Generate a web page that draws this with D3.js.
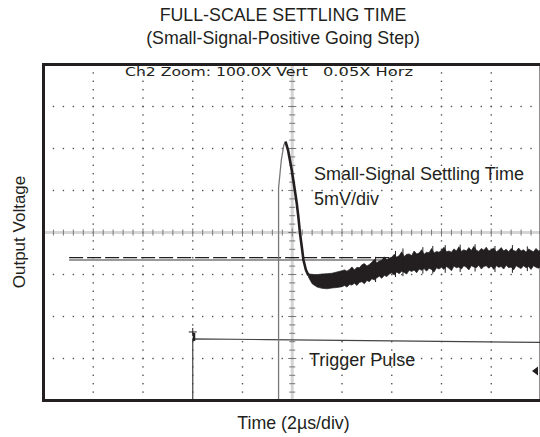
<!DOCTYPE html>
<html>
<head>
<script src="https://d3js.org/d3.v7.min.js"></script>
<style>
  body { margin: 0; background: #fff; }
  text { font-family: "Liberation Sans", Arial, sans-serif; fill: #231f20; }
</style>
</head>
<body>
<div id="chart"></div>
<script>
// scope screen: 2us/div x 10 div, 5mV/div x 8 div, centre line = 0 mV
var timeDomain = [0, 20];
var voltDomain = [-20, 20];
var xDivs = 10, yDivs = 8, minorPerDiv = 5;

// rising edge of the step (grey, comes up from below the screen)
var riseT = [9.45, 9.45, 9.56, 9.66, 9.73];
var riseV = [-21, 5.3, 8.6, 10.4, 10.83];

// overshoot and fast decay (black)
var decayT = [9.73, 9.83, 9.98, 10.09, 10.18, 10.25, 10.31, 10.39, 10.45, 10.55, 10.65];
var decayV = [10.83, 9.82, 7.44, 5.30, 3.51, 1.73, -0.06, -1.84, -3.27, -4.46, -5.1];

// noisy settling tail, upper and lower edge of the trace
var tailT = [10.65, 10.8, 11.0, 11.2, 11.4, 11.6, 11.8, 12.0, 12.1, 12.2, 12.3, 12.4, 12.5, 12.6, 12.7, 12.8, 12.9,
  13.0, 13.1, 13.2, 13.3, 13.4, 13.5, 13.6, 13.7, 13.8, 13.9, 14.0, 14.1, 14.2, 14.3, 14.4, 14.5, 14.6, 14.7, 14.8, 14.9,
  15.0, 15.1, 15.2, 15.3, 15.4, 15.5, 15.6, 15.7, 15.8, 15.9, 16.0, 16.1, 16.2, 16.3, 16.4, 16.5, 16.6, 16.7, 16.8, 16.9,
  17.0, 17.1, 17.2, 17.3, 17.4, 17.5, 17.6, 17.7, 17.8, 17.9, 18.0, 18.1, 18.2, 18.3, 18.4, 18.5, 18.6, 18.7, 18.8, 18.9,
  19.0, 19.1, 19.2, 19.3, 19.4, 19.5, 19.6, 19.7, 19.8, 19.9, 20.0];
var tailHi = [-4.9, -5.0, -5.0, -4.95, -4.9, -4.85, -4.7, -4.55, -4.45, -4.6, -4.4, -4.1, -4.45, -4.15, -4.2, -3.85, -3.7,
  -4.0, -3.8, -3.55, -3.2, -3.6, -3.4, -3.3, -2.9, -3.25, -3.05, -2.95, -2.6, -2.95, -2.75, -2.3, -2.85, -2.6, -2.55, -2.75, -2.2,
  -2.55, -2.45, -2.05, -2.6, -2.35, -2.4, -1.9, -2.45, -2.25, -2.35, -2.1, -1.75, -2.3, -2.2, -2.35, -1.95, -2.2, -1.7, -2.25, -2.05,
  -2.2, -1.8, -2.15, -1.65, -2.1, -2.25, -1.9, -2.1, -1.75, -2.2, -2.05, -1.85, -2.3, -2.1, -1.8, -2.2, -2.0, -2.3, -1.9, -2.15,
  -2.25, -1.85, -2.2, -2.05, -2.35, -1.95, -2.15, -2.3, -1.9, -2.2, -2.1];
var tailLo = [-5.3, -6.1, -6.5, -6.65, -6.7, -6.6, -6.55, -6.45, -6.3, -6.5, -6.2, -6.25, -6.05, -6.3, -5.95, -5.85, -6.1,
  -5.7, -5.85, -5.5, -5.65, -5.4, -5.2, -5.45, -5.1, -5.25, -4.95, -4.8, -5.05, -4.7, -4.9, -4.6, -4.75, -4.95, -4.5, -4.65, -4.45,
  -4.8, -4.35, -4.5, -4.3, -4.6, -4.25, -4.4, -4.7, -4.2, -4.35, -4.15, -4.4, -4.05, -4.25, -4.55, -4.0, -4.2, -4.1, -4.35, -3.95,
  -4.15, -4.45, -3.95, -4.1, -4.2, -3.9, -4.35, -4.05, -3.95, -4.25, -4.0, -4.4, -3.95, -4.15, -4.05, -4.35, -3.9, -4.2, -4.1, -4.45,
  -3.95, -4.15, -4.3, -3.95, -4.2, -4.05, -4.4, -3.95, -4.15, -4.25, -4.0];

// isolated noise spikes on the tail
var spikeT = [13.35, 14.15, 14.45, 15.25, 15.65, 16.15, 16.75, 17.35, 18.15, 18.85, 19.45];
var spikeTop = [-2.9, -2.2, -1.9, -1.75, -1.6, -1.5, -1.45, -1.4, -1.6, -1.5, -1.65];
var spikeBot = [-5.9, -5.3, -5.2, -4.9, -4.9, -4.8, -4.7, -4.65, -4.7, -4.8, -4.6];

// reference levels (dashed final value and grey level)
var refT = [1.03, 20];
var dashedV = [-3.0, -3.0];
var greyV = [-3.27, -3.27];

// trigger pulse
var trigT = [6.0, 6.0, 9.0, 14.0, 20.0];
var trigV = [-21, -12.67, -12.75, -12.9, -13.09];
var trigMark = [6.0, -11.84];
var groundMark = [20, -16.5];

var scopeLabel1 = "Ch2 Zoom: 100.0X Vert";
var scopeLabel2 = "0.05X Horz";

var width = 540, height = 437;
var padLeft = 43.5, padRight = 541, padTop = 64.5, padBottom = 400.5;

var svg = d3.select("#chart").append("svg")
    .attr("width", width)
    .attr("height", height);

var x = d3.scaleLinear().domain(timeDomain).range([padLeft, padRight]);
var y = d3.scaleLinear().domain(voltDomain).range([padBottom, padTop]);

var xStep = (timeDomain[1] - timeDomain[0]) / xDivs;
var yStep = (voltDomain[1] - voltDomain[0]) / yDivs;

// dotted graticule
var grid = svg.append("g");
var dots = [];
d3.range(0, xDivs + 1).forEach(function(i) {
    if (i === xDivs / 2) return;
    d3.range(0, yDivs * minorPerDiv + 1).forEach(function(j) {
        dots.push([timeDomain[0] + i * xStep, voltDomain[0] + j * yStep / minorPerDiv]);
    });
});
d3.range(0, yDivs + 1).forEach(function(k) {
    if (k === yDivs / 2) return;
    d3.range(0, xDivs * minorPerDiv + 1).forEach(function(j) {
        dots.push([timeDomain[0] + j * xStep / minorPerDiv, voltDomain[0] + k * yStep]);
    });
});
grid.selectAll("rect.dot")
    .data(dots)
    .enter().append("rect")
    .attr("class", "dot")
    .attr("x", function(d) { return x(d[0]) - 0.7; })
    .attr("y", function(d) { return y(d[1]) - 0.7; })
    .attr("width", 1.4)
    .attr("height", 1.4)
    .attr("fill", "#555");

// centre axes with minor ticks
var cx = x((timeDomain[0] + timeDomain[1]) / 2);
var cy = y((voltDomain[0] + voltDomain[1]) / 2);
grid.append("line")
    .attr("x1", padLeft).attr("x2", padRight).attr("y1", cy).attr("y2", cy)
    .attr("stroke", "#aaa").attr("stroke-width", 3).attr("stroke-dasharray", "1,1");
grid.append("line")
    .attr("x1", cx).attr("x2", cx).attr("y1", padTop).attr("y2", padBottom)
    .attr("stroke", "#aaa").attr("stroke-width", 3).attr("stroke-dasharray", "1,1");
grid.selectAll("line.xt")
    .data(d3.range(0, xDivs * minorPerDiv + 1))
    .enter().append("line")
    .attr("class", "xt")
    .attr("x1", function(j) { return x(j * xStep / minorPerDiv); })
    .attr("x2", function(j) { return x(j * xStep / minorPerDiv); })
    .attr("y1", function(j) { return cy - (j % minorPerDiv === 0 ? 4 : 3); })
    .attr("y2", function(j) { return cy + (j % minorPerDiv === 0 ? 4 : 3); })
    .attr("stroke", "#777").attr("stroke-width", 1);
grid.selectAll("line.yt")
    .data(d3.range(0, yDivs * minorPerDiv + 1))
    .enter().append("line")
    .attr("class", "yt")
    .attr("y1", function(j) { return y(voltDomain[0] + j * yStep / minorPerDiv); })
    .attr("y2", function(j) { return y(voltDomain[0] + j * yStep / minorPerDiv); })
    .attr("x1", function(j) { return cx - (j % minorPerDiv === 0 ? 4 : 3); })
    .attr("x2", function(j) { return cx + (j % minorPerDiv === 0 ? 4 : 3); })
    .attr("stroke", "#777").attr("stroke-width", 1);

svg.append("clipPath").attr("id", "clip")
    .append("rect").attr("x", padLeft).attr("y", padTop)
    .attr("width", padRight - padLeft).attr("height", padBottom - padTop);
var plot = svg.append("g").attr("clip-path", "url(#clip)");

var line = d3.line()
    .x(function(d) { return x(d[0]); })
    .y(function(d) { return y(d[1]); });

// reference levels
plot.append("path")
    .datum(d3.zip(refT, greyV))
    .attr("d", line)
    .attr("fill", "none").attr("stroke", "#999").attr("stroke-width", 2);
plot.append("path")
    .datum(d3.zip(refT, dashedV))
    .attr("d", line)
    .attr("fill", "none").attr("stroke", "#231f20").attr("stroke-width", 1.3)
    .attr("stroke-dasharray", "14,4");

// trigger pulse
plot.append("path")
    .datum(d3.zip(trigT, trigV))
    .attr("d", line)
    .attr("fill", "none").attr("stroke", "#444").attr("stroke-width", 1.2);
var tm = [x(trigMark[0]), y(trigMark[1])];
plot.append("path")
    .attr("d", "M" + (tm[0] - 4) + "," + tm[1] + "H" + (tm[0] + 4) + "M" + tm[0] + "," + (tm[1] - 4) + "V" + (tm[1] + 4))
    .attr("stroke", "#231f20").attr("stroke-width", 1);
plot.append("rect")
    .attr("x", tm[0]).attr("y", tm[1] + 1).attr("width", 2.5).attr("height", 8)
    .attr("fill", "#231f20");

// step response
plot.append("path")
    .datum(d3.zip(riseT, riseV))
    .attr("d", line)
    .attr("fill", "none").attr("stroke", "#777").attr("stroke-width", 1.3);
plot.append("path")
    .datum(d3.zip(decayT, decayV))
    .attr("d", line)
    .attr("fill", "none").attr("stroke", "#231f20").attr("stroke-width", 2.6)
    .attr("stroke-linejoin", "round");
var area = d3.area()
    .x(function(d) { return x(d[0]); })
    .y0(function(d) { return y(d[2]); })
    .y1(function(d) { return y(d[1]); });
plot.append("path")
    .datum(d3.zip(tailT, tailHi, tailLo))
    .attr("d", area)
    .attr("fill", "#231f20").attr("stroke", "#231f20").attr("stroke-width", 0.7);
plot.selectAll("line.spike")
    .data(d3.zip(spikeT, spikeTop, spikeBot))
    .enter().append("line")
    .attr("class", "spike")
    .attr("x1", function(d) { return x(d[0]); })
    .attr("x2", function(d) { return x(d[0]); })
    .attr("y1", function(d) { return y(d[1]); })
    .attr("y2", function(d) { return y(d[2]); })
    .attr("stroke", "#231f20").attr("stroke-width", 1);

// ground marker
var gm = [x(groundMark[0]) - 3, y(groundMark[1])];
svg.append("path")
    .attr("d", "M" + (gm[0] - 6) + "," + gm[1] + "L" + gm[0] + "," + (gm[1] - 4.5) + "L" + gm[0] + "," + (gm[1] + 4.5) + "Z")
    .attr("fill", "#231f20");

// frame
svg.append("rect")
    .attr("x", padLeft).attr("y", padTop)
    .attr("width", padRight - padLeft).attr("height", padBottom - padTop)
    .attr("fill", "none").attr("stroke", "#231f20").attr("stroke-width", 3);

// scope readout
svg.append("text")
    .attr("x", 125).attr("y", 76)
    .attr("textLength", 183).attr("lengthAdjust", "spacingAndGlyphs")
    .style("font-family", "'DejaVu Sans', sans-serif").style("font-size", "11.5px")
    .text(scopeLabel1);
svg.append("text")
    .attr("x", 323).attr("y", 76)
    .attr("textLength", 90).attr("lengthAdjust", "spacingAndGlyphs")
    .style("font-family", "'DejaVu Sans', sans-serif").style("font-size", "11.5px")
    .text(scopeLabel2);

// annotations
svg.append("text").attr("x", 314).attr("y", 180).style("font-size", "18px").text("Small-Signal Settling Time");
svg.append("text").attr("x", 314).attr("y", 205).style("font-size", "18px").text("5mV/div");
svg.append("text").attr("x", 309).attr("y", 366).style("font-size", "18px").text("Trigger Pulse");

// titles
svg.append("text").attr("x", 283).attr("y", 20.5).attr("text-anchor", "middle")
    .style("font-size", "17.8px").text("FULL-SCALE SETTLING TIME");
svg.append("text").attr("x", 283).attr("y", 44).attr("text-anchor", "middle")
    .style("font-size", "17.8px").text("(Small-Signal-Positive Going Step)");
svg.append("text").attr("x", 293.5).attr("y", 429).attr("text-anchor", "middle")
    .style("font-size", "17.8px").text("Time (2\u00b5s/div)");
svg.append("text")
    .attr("transform", "translate(25,232) rotate(-90)")
    .attr("text-anchor", "middle")
    .style("font-size", "17px").text("Output Voltage");
</script>
</body>
</html>
